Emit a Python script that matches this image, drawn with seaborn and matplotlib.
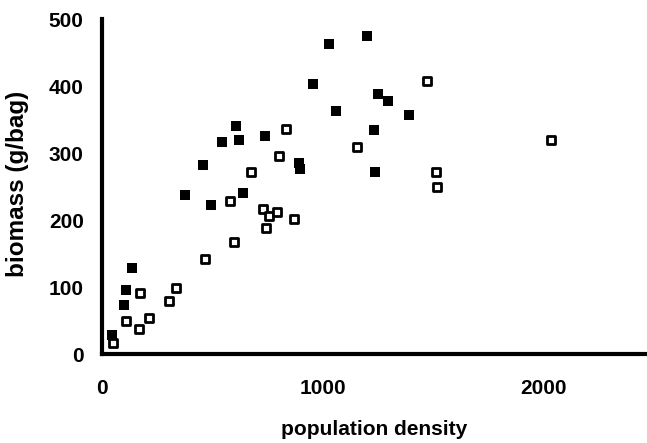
import matplotlib
matplotlib.use("Agg")
import matplotlib.pyplot as plt
import seaborn as sns
import pandas as pd

# Filled squares
filled_x = [47, 100, 110, 137, 378, 457, 496, 543, 609, 620, 638, 741, 893, 899,
            955, 1029, 1063, 1203, 1232, 1240, 1253, 1296, 1394]
filled_y = [29, 73, 96, 128, 237, 282, 222, 316, 340, 319, 241, 326, 285, 276,
            403, 463, 363, 475, 334, 271, 388, 378, 356]
# Open squares
open_x = [51, 109, 169, 174, 212, 305, 337, 469, 580, 599, 676, 730, 742, 756,
          794, 801, 834, 871, 1156, 1472, 1512, 1521, 2035]
open_y = [16, 49, 38, 91, 54, 79, 99, 142, 229, 167, 272, 217, 188, 206,
          212, 296, 336, 201, 309, 407, 272, 250, 319]

x_ticks = [0, 1000, 2000]
y_ticks = [0, 100, 200, 300, 400, 500]

sns.set_style("white")
plt.rcParams['font.family'] = ['Liberation Sans', 'DejaVu Sans']
plt.rcParams['font.weight'] = 'bold'
plt.rcParams['text.color'] = 'black'
plt.rcParams['axes.labelcolor'] = 'black'
plt.rcParams['xtick.color'] = 'black'
plt.rcParams['ytick.color'] = 'black'

fig = plt.figure(figsize=(6.47, 4.43), dpi=100)
ax = fig.add_axes([0.1572, 0.2009, 0.8428, 0.7562])

df_f = pd.DataFrame({"x": filled_x, "y": filled_y})
df_o = pd.DataFrame({"x": open_x, "y": open_y})

sns.scatterplot(data=df_o, x="x", y="y", marker="s", s=34, facecolor="white",
                edgecolor="black", linewidth=2.0, ax=ax, zorder=3)
sns.scatterplot(data=df_f, x="x", y="y", marker="s", s=62, color="black",
                linewidth=0, ax=ax, zorder=4)

ax.set_xlim(0, 2470)
ax.set_ylim(0, 500)
ax.set_xticks(x_ticks)
ax.set_yticks(y_ticks)
ax.set_xticklabels([str(t) for t in x_ticks], fontsize=15, fontweight='bold', color='black')
ax.set_yticklabels([str(t) for t in y_ticks], fontsize=15, fontweight='bold', color='black')

for side in ["top", "right"]:
    ax.spines[side].set_visible(False)
for side in ["left", "bottom"]:
    ax.spines[side].set_linewidth(3.0)
    ax.spines[side].set_color("black")
    ax.spines[side].set_capstyle("projecting")

ax.tick_params(axis="both", direction="in", length=6, width=2.5, color="black",
               labelcolor="black")
ax.tick_params(axis="y", pad=13)
ax.tick_params(axis="x", pad=18)

ax.set_xlabel("population density", fontsize=15, fontweight='bold', labelpad=16,
              color='black')
ax.set_ylabel("biomass (g/bag)", fontsize=17.5, fontweight='bold', labelpad=12,
              color='black')
ax.yaxis.set_label_coords(-0.134, 0.507)

fig.savefig("out.png", dpi=100)
